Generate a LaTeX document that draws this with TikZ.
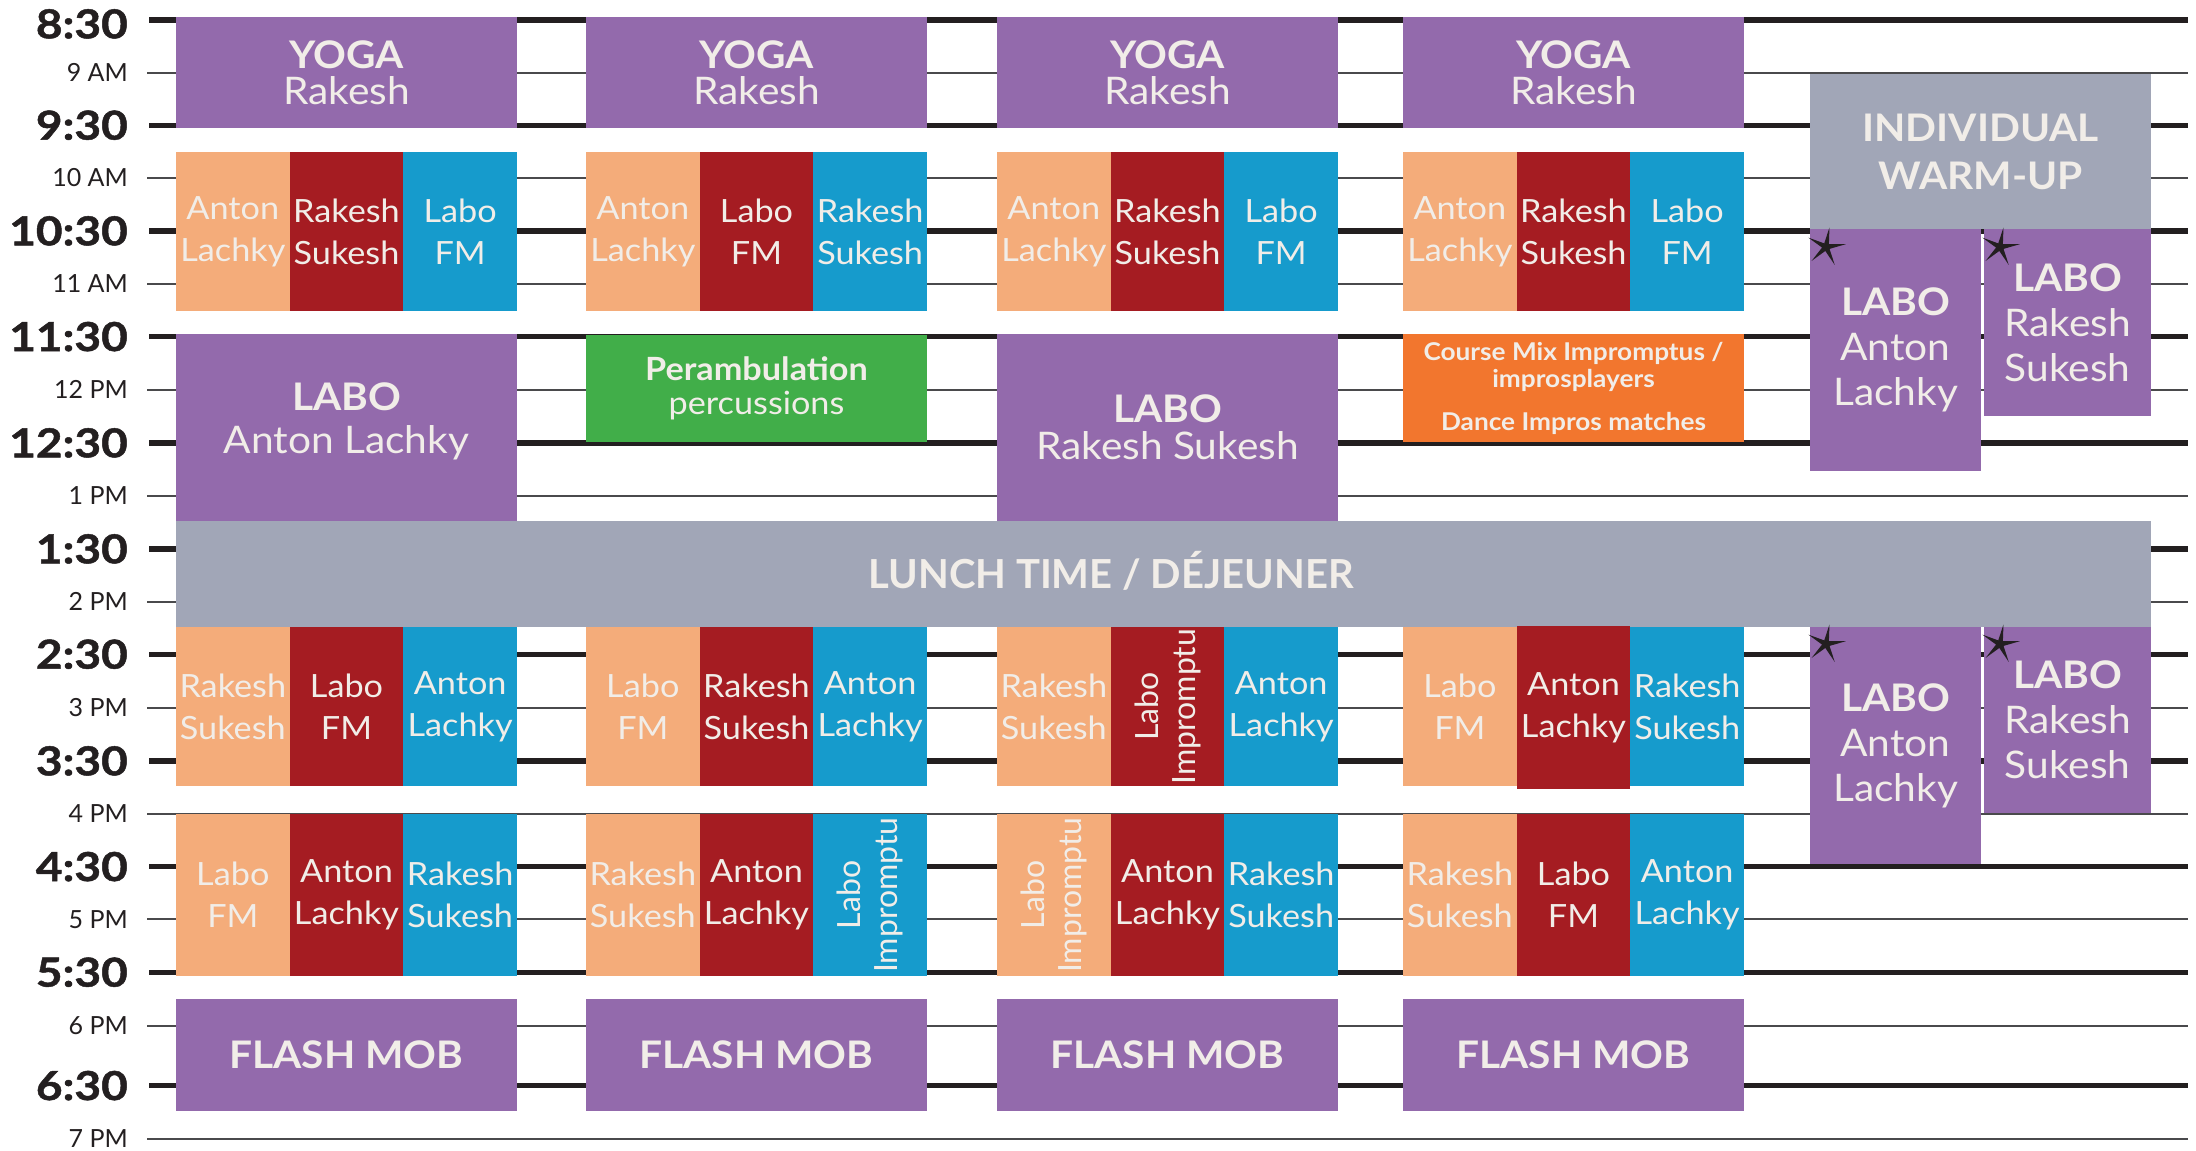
\documentclass[tikz,border=0pt]{standalone}
\usepackage{fontspec}
\setmainfont{Lato}[FakeStretch=1.07]
\newfontfamily\plainfont{Lato}
\newfontfamily\timefont{Lato}[FakeStretch=1.15, FakeBold=1.2]
\usetikzlibrary{shapes.geometric}
\definecolor{cpurple}{HTML}{936AAC}
\definecolor{csalmon}{HTML}{F4AC7A}
\definecolor{cred}{HTML}{A51C22}
\definecolor{cblue}{HTML}{169BCC}
\definecolor{cgray}{HTML}{A1A6B7}
\definecolor{cgreen}{HTML}{41AE49}
\definecolor{corange}{HTML}{F2762E}
\definecolor{ctext}{HTML}{F1EDE8}
\definecolor{cline}{HTML}{231F20}
\definecolor{cthin}{HTML}{4A4A4C}
\begin{document}
\begin{tikzpicture}[x=1pt,y=-1pt,
  box/.style={inner sep=0pt, outer sep=0pt, text=ctext, align=center},
  subw/.style={box, minimum width=113.9pt, font=\fontsize{32}{42}\selectfont},
  sal/.style={subw, fill=csalmon},
  rd/.style={subw, fill=cred},
  bl/.style={subw, fill=cblue},
  rowm/.style={minimum height=159pt},
  rowa/.style={minimum height=159pt},
  rowb/.style={minimum height=162pt},
  rotA/.style={rotate=90, minimum width=159pt, minimum height=113.9pt, font=\plainfont\fontsize{32}{37}\selectfont},
  rotB/.style={rotate=90, minimum width=162pt, minimum height=113.9pt, font=\plainfont\fontsize{32}{37}\selectfont},
  wide/.style={box, minimum width=341pt},
  yoga/.style={wide, fill=cpurple, minimum height=111pt, font=\fontsize{38}{36}\selectfont},
  flash/.style={wide, fill=cpurple, minimum height=112pt, font=\bfseries\fontsize{38}{44}\selectfont},
  labo/.style={box, fill=cpurple, font=\fontsize{38}{45}\selectfont},
  starmark/.style={star, star points=5, star point ratio=5, fill=cline, minimum size=40pt, inner sep=0pt, rotate=-10},
  tbold/.style={anchor=east, inner sep=0pt, text=cline, font=\timefont\bfseries\fontsize{40}{40}\selectfont, text height=28.7pt, text depth=0pt},
  tthin/.style={anchor=east, inner sep=0pt, text=cline, font=\plainfont\fontsize{25}{25}\selectfont, text height=17.9pt, text depth=0pt},
  thickline/.style={line width=5.3pt, cline},
  thinline/.style={line width=1.8pt, cthin}
]
\useasboundingbox (0,0) rectangle (2196,1151);

% grid lines
\foreach \y in {20,125.3,231,336.7,443,549,654.3,761,866.7,972.3,1085.7}
  \draw[thickline] (149,\y) -- (2188,\y);
\foreach \y in {72.7,178,284,390,495.7,601.7,708,813.7,919.3,1025.7,1139}
  \draw[thinline] (147,\y) -- (2188,\y);

% time labels
\foreach \t/\y [count=\i] in {8:30/24,9:30/125.3,10:30/231,11:30/336.7,12:30/443,1:30/549,2:30/654.3,3:30/761,4:30/866.7,5:30/972.3,6:30/1085.7}
  \node[tbold] (tb\i) at (128,\y) {\t};
\foreach \t/\y [count=\i] in {9 AM/72.7,10 AM/178,11 AM/284,12 PM/390,1 PM/495.7,2 PM/601.7,3 PM/708,4 PM/813.7,5 PM/919.3,6 PM/1025.7,7 PM/1139}
  \node[tthin] (tt\i) at (128,\y) {\t};

% yoga
\node[yoga] (y1) at (346.5,72.5) {{\bfseries YOGA}\\Rakesh};
\node[yoga] (y2) at (756.5,72.5) {{\bfseries YOGA}\\Rakesh};
\node[yoga] (y3) at (1167.5,72.5) {{\bfseries YOGA}\\Rakesh};
\node[yoga] (y4) at (1573.5,72.5) {{\bfseries YOGA}\\Rakesh};

% morning sub sessions
\node[sal,rowm] (m1a) at (232.83,231.5) {Anton\\Lachky};
\node[rd,rowm]  (m1b) at (346.5,231.5) {Rakesh\\Sukesh};
\node[bl,rowm]  (m1c) at (460.17,231.5) {Labo\\FM};
\node[sal,rowm] (m2a) at (642.83,231.5) {Anton\\Lachky};
\node[rd,rowm]  (m2b) at (756.5,231.5) {Labo\\FM};
\node[bl,rowm]  (m2c) at (870.17,231.5) {Rakesh\\Sukesh};
\node[sal,rowm] (m3a) at (1053.83,231.5) {Anton\\Lachky};
\node[rd,rowm]  (m3b) at (1167.5,231.5) {Rakesh\\Sukesh};
\node[bl,rowm]  (m3c) at (1281.17,231.5) {Labo\\FM};
\node[sal,rowm] (m4a) at (1459.83,231.5) {Anton\\Lachky};
\node[rd,rowm]  (m4b) at (1573.5,231.5) {Rakesh\\Sukesh};
\node[bl,rowm]  (m4c) at (1687.17,231.5) {Labo\\FM};

% midday
\node[wide, fill=cpurple, minimum height=187pt] (l1) at (346.5,427.5) {};
\node[box, font=\fontsize{38}{43}\selectfont] (l1t) at (346.5,421) {{\bfseries LABO}\\Anton Lachky};
\node[wide, fill=cgreen, minimum height=107pt, font=\fontsize{32}{34}\selectfont] (g2) at (756.5,388.5) {{\bfseries Perambulation}\\percussions};
\node[wide, fill=cpurple, minimum height=187pt, font=\fontsize{38}{37}\selectfont] (l3) at (1167.5,427.5) {{\bfseries LABO}\\Rakesh Sukesh};
\node[wide, fill=corange, minimum height=108pt, font=\bfseries\fontsize{24.5}{27}\selectfont] (o4) at (1573.5,388) {Course Mix Impromptus /\\improsplayers\\[16pt]Dance Impros matches};

% column 5
\node[wide, fill=cgray, minimum height=155pt, font=\bfseries\fontsize{38}{48}\selectfont] (w5) at (1980.5,151.5) {INDIVIDUAL\\WARM-UP};
\node[labo, minimum width=171pt, minimum height=242pt] (la5) at (1895.5,350) {{\bfseries LABO}\\Anton\\Lachky};
\node[labo, minimum width=167pt, minimum height=187pt] (lr5) at (2067.5,322.5) {{\bfseries LABO}\\Rakesh\\Sukesh};
\node[labo, minimum width=171pt, minimum height=237pt] (la5b) at (1895.5,745.5) {{\bfseries LABO}\\Anton\\Lachky};
\node[labo, minimum width=167pt, minimum height=186pt] (lr5b) at (2067.5,720) {{\bfseries LABO}\\Rakesh\\Sukesh};

% lunch
\node[box, fill=cgray, minimum width=1975pt, minimum height=106pt] (lunch) at (1163.5,574) {};
\node[box, font=\plainfont\bfseries\fontsize{40}{40}\selectfont, text height=29pt, text depth=0pt] (lunchtxt) at (1111,574) {LUNCH TIME / DÉJEUNER};

% afternoon 1
\node[sal,rowa] (a1a) at (232.83,706.5) {Rakesh\\Sukesh};
\node[rd,rowa]  (a1b) at (346.5,706.5) {Labo\\FM};
\node[bl,rowa]  (a1c) at (460.17,706.5) {Anton\\Lachky};
\node[sal,rowa] (a2a) at (642.83,706.5) {Labo\\FM};
\node[rd,rowa]  (a2b) at (756.5,706.5) {Rakesh\\Sukesh};
\node[bl,rowa]  (a2c) at (870.17,706.5) {Anton\\Lachky};
\node[sal,rowa] (a3a) at (1053.83,706.5) {Rakesh\\Sukesh};
\node[rd,rotA]  (a3b) at (1167.5,706.5) {Labo\\Impromptu};
\node[bl,rowa]  (a3c) at (1281.17,706.5) {Anton\\Lachky};
\node[sal,rowa] (a4a) at (1459.83,706.5) {Labo\\FM};
\node[rd,minimum height=163pt] (a4b) at (1573.5,707.5) {Anton\\Lachky};
\node[bl,rowa]  (a4c) at (1687.17,706.5) {Rakesh\\Sukesh};

% afternoon 2
\node[sal,rowb] (b1a) at (232.83,895) {Labo\\FM};
\node[rd,rowb]  (b1b) at (346.5,895) {Anton\\Lachky};
\node[bl,rowb]  (b1c) at (460.17,895) {Rakesh\\Sukesh};
\node[sal,rowb] (b2a) at (642.83,895) {Rakesh\\Sukesh};
\node[rd,rowb]  (b2b) at (756.5,895) {Anton\\Lachky};
\node[bl,rotB]  (b2c) at (870.17,895) {Labo\\Impromptu};
\node[sal,rotB] (b3a) at (1053.83,895) {Labo\\Impromptu};
\node[rd,rowb]  (b3b) at (1167.5,895) {Anton\\Lachky};
\node[bl,rowb]  (b3c) at (1281.17,895) {Rakesh\\Sukesh};
\node[sal,rowb] (b4a) at (1459.83,895) {Rakesh\\Sukesh};
\node[rd,rowb]  (b4b) at (1573.5,895) {Labo\\FM};
\node[bl,rowb]  (b4c) at (1687.17,895) {Anton\\Lachky};

% flash mob
\node[flash] (f1) at (346.5,1055) {FLASH MOB};
\node[flash] (f2) at (756.5,1055) {FLASH MOB};
\node[flash] (f3) at (1167.5,1055) {FLASH MOB};
\node[flash] (f4) at (1573.5,1055) {FLASH MOB};

% stars
\node[starmark] (s1) at (1826,247) {};
\node[starmark] (s2) at (2000,247) {};
\node[starmark] (s3) at (1826,644) {};
\node[starmark] (s4) at (2000,644) {};
\end{tikzpicture}
\end{document}
